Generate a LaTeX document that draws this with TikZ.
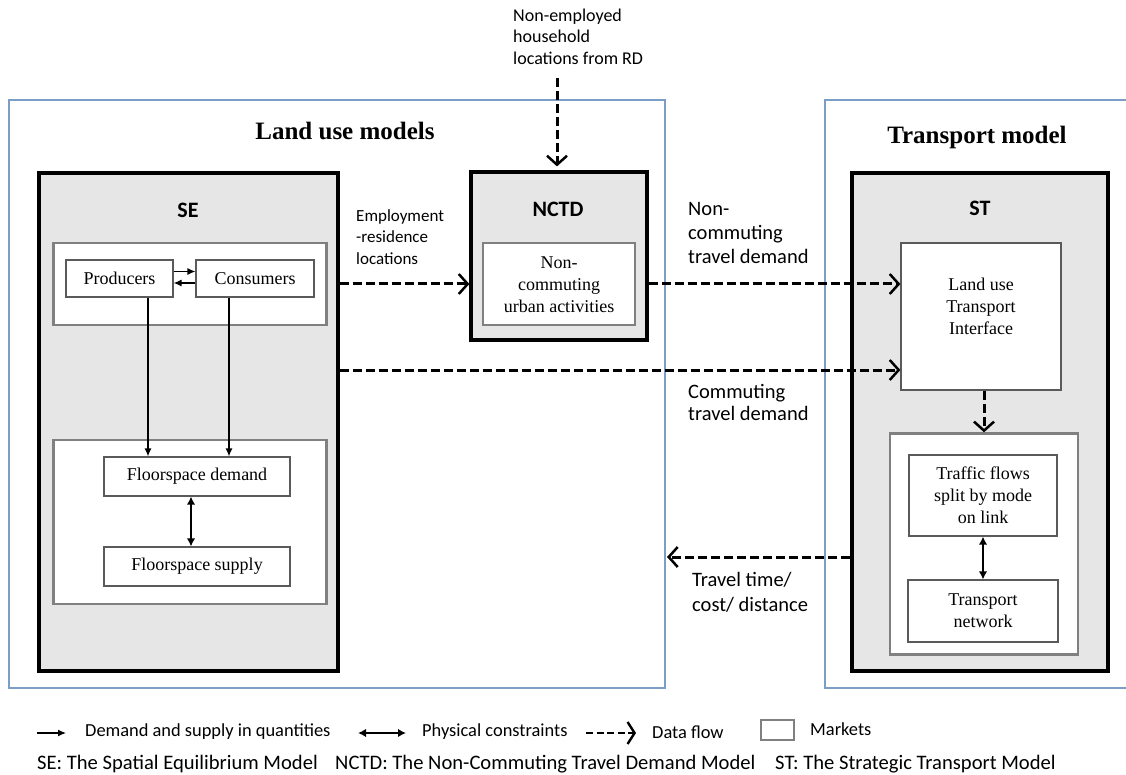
\documentclass[tikz,border=0pt]{standalone}
\usepackage{fontspec}
\setmainfont{Liberation Serif}
\newfontfamily\labfont{Carlito}
\usetikzlibrary{arrows.meta}

\definecolor{frameblue}{HTML}{7C9DC6}
\definecolor{modelgray}{HTML}{E6E6E6}
\definecolor{marketgray}{HTML}{808080}
\definecolor{boxgray}{HTML}{5A5A5A}

\tikzset{
  frame/.style={draw=frameblue, line width=1.4pt, fill=none, inner sep=0pt},
  model/.style={draw=black, line width=3.2pt, fill=modelgray, inner sep=0pt},
  market/.style={draw=marketgray, line width=2.4pt, fill=white, inner sep=0pt},
  itembox/.style={draw=boxgray, line width=1.2pt, fill=white, inner sep=0pt,
    font=\fontsize{18}{22}\selectfont, align=center},
  title/.style={font=\fontsize{25}{30}\selectfont\bfseries},
  modelname/.style={font=\labfont\fontsize{22}{26}\selectfont\bfseries},
  flowlabel/.style={font=\labfont\fontsize{20.5}{24}\selectfont, align=left, anchor=west, inner sep=0pt},
  legendtext/.style={font=\labfont\fontsize{18.4}{22}\selectfont, anchor=west, inner sep=0pt},
  abbrtext/.style={font=\labfont\fontsize{20.6}{24}\selectfont, anchor=west, inner sep=0pt},
  qty/.style={line width=1.3pt, -{Latex[length=8pt,width=7pt]}},
  phys/.style={line width=2pt, {Latex[length=8pt,width=8.5pt]}-{Latex[length=8pt,width=8.5pt]}},
  flow/.style={line width=3pt, dash pattern=on 9pt off 4pt,
    -{Straight Barb[length=9pt,width=20pt,line width=2.5pt]}},
}

\begin{document}
\begin{tikzpicture}[x=1pt,y=-1pt]
\clip (0,0) rectangle (1126,775);
\useasboundingbox (0,0) rectangle (1126,775);

% outer frames of the two model groups
\node[frame, minimum width=656pt, minimum height=588pt] (landuse) at (337,394) {};
\node[frame, minimum width=330pt, minimum height=588pt] (transport) at (990,394) {};
\node[title] (lutitle) at (345,131) {Land use models};
\node[title] (trtitle) at (977,137) {Transport model};

% Spatial Equilibrium model
\node[model, minimum width=299pt, minimum height=498pt] (se) at (188.5,422) {};
\node[modelname] (setitle) at (188,210) {SE};
\node[market, minimum width=273pt, minimum height=82pt] (semkt1) at (190,284) {};
\node[itembox, minimum width=107pt, minimum height=37pt] (prod) at (119.5,278.5) {Producers};
\node[itembox, minimum width=118pt, minimum height=37pt] (cons) at (255,278.5) {Consumers};
\node[market, minimum width=273pt, minimum height=164pt] (semkt2) at (190,522) {};
\node[itembox, minimum width=186pt, minimum height=39pt] (fd) at (197,476.5) {Floorspace demand};
\node[itembox, minimum width=186pt, minimum height=39pt] (fs) at (197,566.5) {Floorspace supply};

% Non-Commuting Travel Demand model
\node[model, minimum width=176pt, minimum height=168pt] (nctd) at (559,256) {};
\node[modelname] (nctdtitle) at (558,209) {NCTD};
\node[market, minimum width=152pt, minimum height=82pt] (nmkt) at (559,284) {};
\node[align=center, font=\fontsize{18}{22}\selectfont] (ncua) at (559,285) {Non-\\commuting\\urban activities};

% Strategic Transport model
\node[model, minimum width=256pt, minimum height=498pt] (st) at (980,422) {};
\node[modelname] (sttitle) at (980,208) {ST};
\node[itembox, minimum width=160pt, minimum height=147pt, text depth=20pt] (luti) at (981,316.5) {Land use\\Transport\\Interface};
\node[market, minimum width=188pt, minimum height=221pt] (stmkt) at (984,544) {};
\node[itembox, minimum width=148pt, minimum height=81pt] (tf) at (983,495.5) {Traffic flows\\split by mode\\on link};
\node[itembox, minimum width=150pt, minimum height=62pt] (tn) at (983,611) {Transport\\network};

% demand and supply flows inside SE
\draw[qty] ([yshift=7pt]prod.east) -- ([yshift=7pt]cons.west);
\draw[qty] ([yshift=-4.5pt]cons.west) -- ([yshift=-4.5pt]prod.east);
\path ([xshift=28.5pt]prod.south) coordinate (pdown);
\path ([xshift=-26pt]cons.south) coordinate (cdown);
\draw[qty] (pdown) -- (pdown |- fd.north);
\draw[qty] (cdown) -- (cdown |- fd.north);
\path ([xshift=-6pt]fd.south) coordinate (fdown);
\draw[phys] (fdown) -- (fdown |- fs.north);
\draw[phys] (tf.south) -- (tf.south |- tn.north);

% data flows
\coordinate (rd) at (557,78);
\coordinate (commy) at (0,370);
\coordinate (tty) at (0,557);
\coordinate (ttend) at (667,557);
\draw[flow] (rd) -- ([yshift=4pt]nctd.north -| rd);
\draw[flow] (se.east |- nmkt) -- (nctd.west |- nmkt);
\draw[flow] (nctd.east |- nmkt) -- (luti.west |- nmkt);
\draw[flow] (se.east |- commy) -- (luti.west |- commy);
\draw[flow] (stmkt.north |- luti.south) -- (stmkt.north);
\draw[flow] (st.west |- tty) -- (ttend);

% flow labels
\node[flowlabel, font=\labfont\fontsize{18}{21.5}\selectfont] (lrd) at (513,36.5) {Non-employed\\household\\locations from RD};
\node[flowlabel, font=\labfont\fontsize{17}{21.5}\selectfont] (lemp) at (356,237) {Employment\\-residence\\locations};
\node[flowlabel] (lnc) at (688,233) {Non-\\commuting\\travel demand};
\node[flowlabel, font=\labfont\fontsize{20.5}{21.5}\selectfont] (lcomm) at (688,402.5) {Commuting\\travel demand};
\node[flowlabel, font=\labfont\fontsize{20.5}{25}\selectfont] (ltt) at (692,592.5) {Travel time/\\cost/ distance};

% legend
\coordinate (k1a) at (37,733);
\coordinate (k1b) at (66,733);
\draw[qty] (k1a) -- (k1b);
\node[legendtext] (k1t) at (85,732) {Demand and supply in quantities};
\coordinate (k2a) at (358,733);
\coordinate (k2b) at (406,733);
\draw[phys] (k2a) -- (k2b);
\node[legendtext] (k2t) at (422,732) {Physical constraints};
\coordinate (k3a) at (586,733);
\coordinate (k3b) at (636,733);
\draw[line width=2.8pt, dash pattern=on 7pt off 3.5pt, -{Straight Barb[length=7pt,width=22pt,line width=2.4pt]}] (k3a) -- (k3b);
\node[legendtext] (k3t) at (652,732) {Data flow};
\node[draw=marketgray, line width=1.4pt, minimum width=33pt, minimum height=20pt, inner sep=0pt] (k4) at (777.5,730) {};
\node[legendtext] (k4t) at (810,729) {Markets};
\node[abbrtext] (abbse) at (37,764) {SE: The Spatial Equilibrium Model};
\node[abbrtext] (abbnc) at (335,764) {NCTD: The Non-Commuting Travel Demand Model};
\node[abbrtext] (abbst) at (775,764) {ST: The Strategic Transport Model};
\end{tikzpicture}
\end{document}
